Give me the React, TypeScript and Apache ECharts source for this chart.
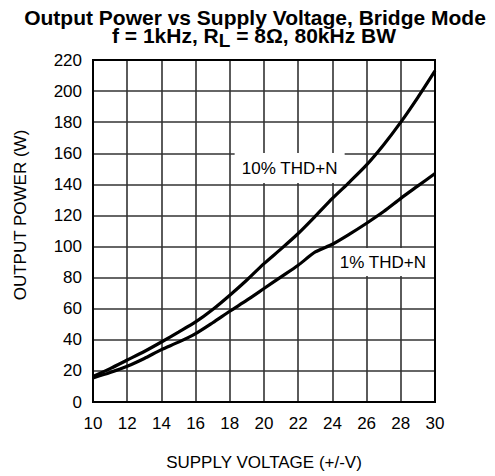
import React, { useEffect, useRef } from "react";
import * as echarts from "echarts";

const voltages = [10, 11, 12, 13, 14, 15, 16, 17, 18, 19, 20, 21, 22, 23, 24, 25, 26, 27, 28, 29, 30];
const thd10 = [16.5, 21.5, 27, 32.5, 38.6, 45, 51.5, 59.5, 68.7, 78.5, 89, 98.5, 108.4, 119.5, 131, 141.5, 152.5, 165.5, 180, 196, 213];
const thd1 = [15.5, 19, 23, 28, 33.7, 38.5, 44, 51, 58.4, 65.5, 73, 80.5, 88, 96.5, 101.5, 108, 115, 122.5, 131, 139, 147];
const seriesNames = ["10% THD+N", "1% THD+N"];
const labelCoord10 = [21.5, 150.5];
const labelCoord1 = [26.95, 90];
const titleLine1 = "Output Power vs Supply Voltage, Bridge Mode";
const titleLine2Parts = ["f = 1kHz, R", "L", " = 8Ω, 80kHz BW"];

const FONT = "'Liberation Sans', Arial, Helvetica, sans-serif";

function measure(text: string, font: string): number {
  const c = document.createElement("canvas").getContext("2d");
  if (!c) return text.length * 11;
  c.font = font;
  return c.measureText(text).width;
}

export default function App() {
  const ref = useRef<HTMLDivElement>(null);
  useEffect(() => {
    if (!ref.current) return;
    const chart = echarts.init(ref.current, null, { renderer: "svg" });
    const mk = (name: string, ys: number[], coord: number[], w: number, h: number) => ({
      name,
      type: "line",
      data: voltages.map((v, i) => [v, ys[i]]),
      smooth: 0.25,
      showSymbol: false,
      lineStyle: { color: "#000", width: 3.2 },
      z: 3,
      markPoint: {
        silent: true,
        symbol: "rect",
        symbolSize: [w, h],
        itemStyle: { color: "#fff" },
        label: {
          show: true,
          position: "inside",
          color: "#000",
          fontSize: 17,
          fontFamily: FONT,
          formatter: name,
        },
        data: [{ coord }],
      },
    });

    const mainFont = `bold 21px ${FONT}`;
    const subFont = `bold 19px ${FONT}`;
    const w0 = measure(titleLine2Parts[0], mainFont);
    const w1 = measure(titleLine2Parts[1], subFont);
    const w2 = measure(titleLine2Parts[2], mainFont);
    const x0 = 254 - (w0 + w1 + w2) / 2;
    const titleStyle = (text: string, size: number, lh: number) => ({
      text,
      fontFamily: FONT,
      fontSize: size,
      fontWeight: "bold",
      fill: "#000",
      lineHeight: lh,
      textAlign: "left",
      textVerticalAlign: "middle",
    });

    chart.setOption({
      animation: false,
      backgroundColor: "#fff",
      grid: { left: 93, right: 60, top: 60, bottom: 74, containLabel: false },
      xAxis: {
        type: "value",
        min: 10,
        max: 30,
        interval: 2,
        name: "SUPPLY VOLTAGE (+/-V)",
        nameLocation: "middle",
        nameGap: 52,
        nameTextStyle: { fontFamily: FONT, fontSize: 17, color: "#000" },
        axisLine: { show: true, lineStyle: { color: "#000", width: 2 } },
        axisTick: { show: false },
        axisLabel: { fontFamily: FONT, fontSize: 17, color: "#000", margin: 13 },
        splitLine: { show: true, lineStyle: { color: "#333", width: 1.6 } },
      },
      yAxis: {
        type: "value",
        min: 0,
        max: 220,
        interval: 20,
        axisLine: { show: true, lineStyle: { color: "#000", width: 2 } },
        axisTick: { show: false },
        axisLabel: { fontFamily: FONT, fontSize: 17, color: "#000", margin: 11 },
        splitLine: { show: true, lineStyle: { color: "#333", width: 1.6 } },
      },
      graphic: [
        {
          type: "text",
          x: 255,
          y: 17,
          style: { ...titleStyle(titleLine1, 21, 16), textAlign: "center" },
        },
        { type: "text", x: x0, y: 35, style: titleStyle(titleLine2Parts[0], 21, 16) },
        { type: "text", x: x0 + w0, y: 40.5, style: titleStyle(titleLine2Parts[1], 19, 14) },
        { type: "text", x: x0 + w0 + w1, y: 35, style: titleStyle(titleLine2Parts[2], 21, 16) },
        {
          type: "rect",
          shape: { x: 93, y: 60, width: 342, height: 342 },
          style: { fill: "none", stroke: "#000", lineWidth: 2 },
          silent: true,
          z: 10,
        },
        {
          type: "text",
          x: 20,
          y: 215,
          rotation: Math.PI / 2,
          style: {
            text: "OUTPUT POWER (W)",
            fontFamily: FONT,
            fontSize: 17,
            fill: "#000",
            textAlign: "center",
            textVerticalAlign: "middle",
          },
        },
      ],
      series: [mk(seriesNames[0], thd10, labelCoord10, 110, 30), mk(seriesNames[1], thd1, labelCoord1, 98, 28)],
    });
    return () => chart.dispose();
  }, []);
  return <div ref={ref} style={{ position: "fixed", left: 0, top: 0, width: 495, height: 476 }} />;
}
